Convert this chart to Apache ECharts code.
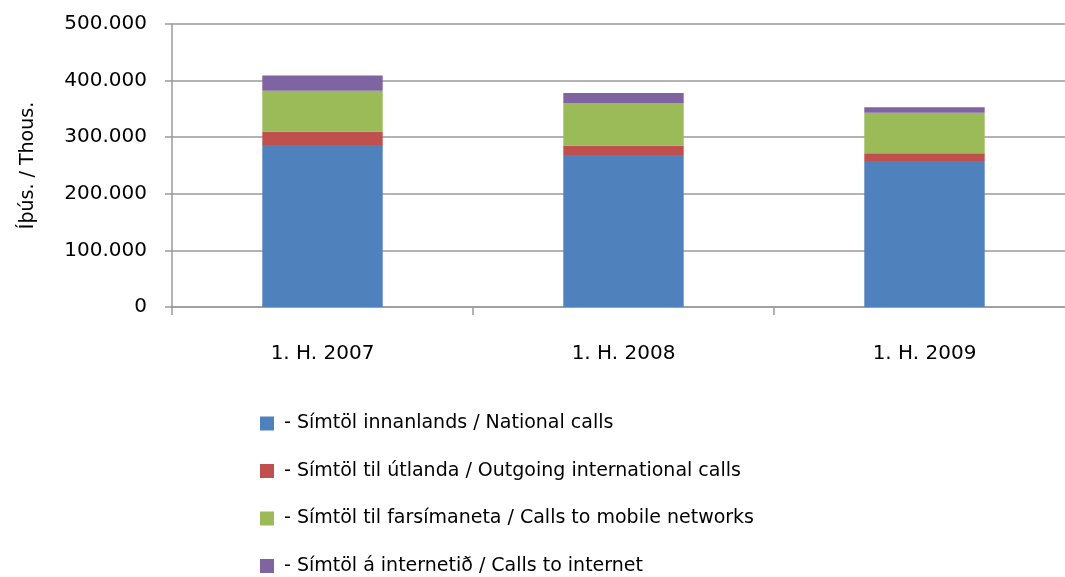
<!DOCTYPE html>
<html>
<head>
<meta charset="utf-8">
<script src="https://cdn.jsdelivr.net/npm/echarts@6/dist/echarts.min.js"></script>
<style>
  html, body { margin: 0; padding: 0; background: #fff; overflow: hidden; }
  #chart { width: 1065px; height: 577px; }
</style>
</head>
<body>
<div id="chart"></div>
<script>
const categories = ['1. H. 2007', '1. H. 2008', '1. H. 2009'];
const seriesNames = [
  '- Símtöl innanlands / National calls',
  '- Símtöl til útlanda / Outgoing international calls',
  '- Símtöl til farsímaneta / Calls to mobile networks',
  '- Símtöl á internetið / Calls to internet'
];
const national = [286000, 268500, 258000];
const international = [24000, 17000, 13500];
const mobile = [72000, 75000, 71500];
const internet = [27000, 17500, 10000];
const colors = ['#4f81bd', '#c0504d', '#9bbb59', '#8064a2'];

const font = 'DejaVu Sans';
const chart = echarts.init(document.getElementById('chart'));

const values = [national, international, mobile, internet];
const series = values.map((data, i) => ({
  name: seriesNames[i],
  type: 'bar',
  stack: 'total',
  barWidth: '40%',
  data: data,
  itemStyle: { color: colors[i] }
}));

chart.setOption({
  animation: false,
  textStyle: { fontFamily: font },
  grid: { left: 172, width: 903, top: 24, bottom: 270, outerBoundsMode: 'none', containLabel: false },
  legend: {
    orient: 'vertical',
    left: 260,
    top: 414,
    padding: 0,
    itemWidth: 14,
    itemHeight: 14,
    itemGap: 28.5,
    icon: 'rect',
    textStyle: { fontFamily: font, fontSize: 19, color: '#000', padding: [0, 0, 0, 5] },
    data: seriesNames
  },
  xAxis: {
    type: 'category',
    data: categories,
    axisLine: { lineStyle: { color: '#9a9a9a', width: 1.5 } },
    axisTick: { show: true, length: 8, lineStyle: { color: '#9a9a9a', width: 1.5 } },
    axisLabel: { color: '#000', fontSize: 20, margin: 37 }
  },
  yAxis: {
    type: 'value',
    min: 0,
    max: 500000,
    interval: 100000,
    name: 'Íþús. / Thous.',
    nameLocation: 'middle',
    nameGap: 134,
    nameRotate: 90,
    nameTextStyle: { color: '#000', fontSize: 19 },
    axisLine: { show: true, lineStyle: { color: '#9a9a9a', width: 1.5 } },
    axisTick: { show: true, length: 7, lineStyle: { color: '#9a9a9a', width: 1.5 } },
    splitLine: { lineStyle: { color: '#9a9a9a', width: 1.5 } },
    axisLabel: {
      color: '#000',
      fontSize: 20,
      margin: 25,
      formatter: v => v === 0 ? '0' : (v / 1000) + '.000'
    }
  },
  series: series
});
</script>
</body>
</html>
